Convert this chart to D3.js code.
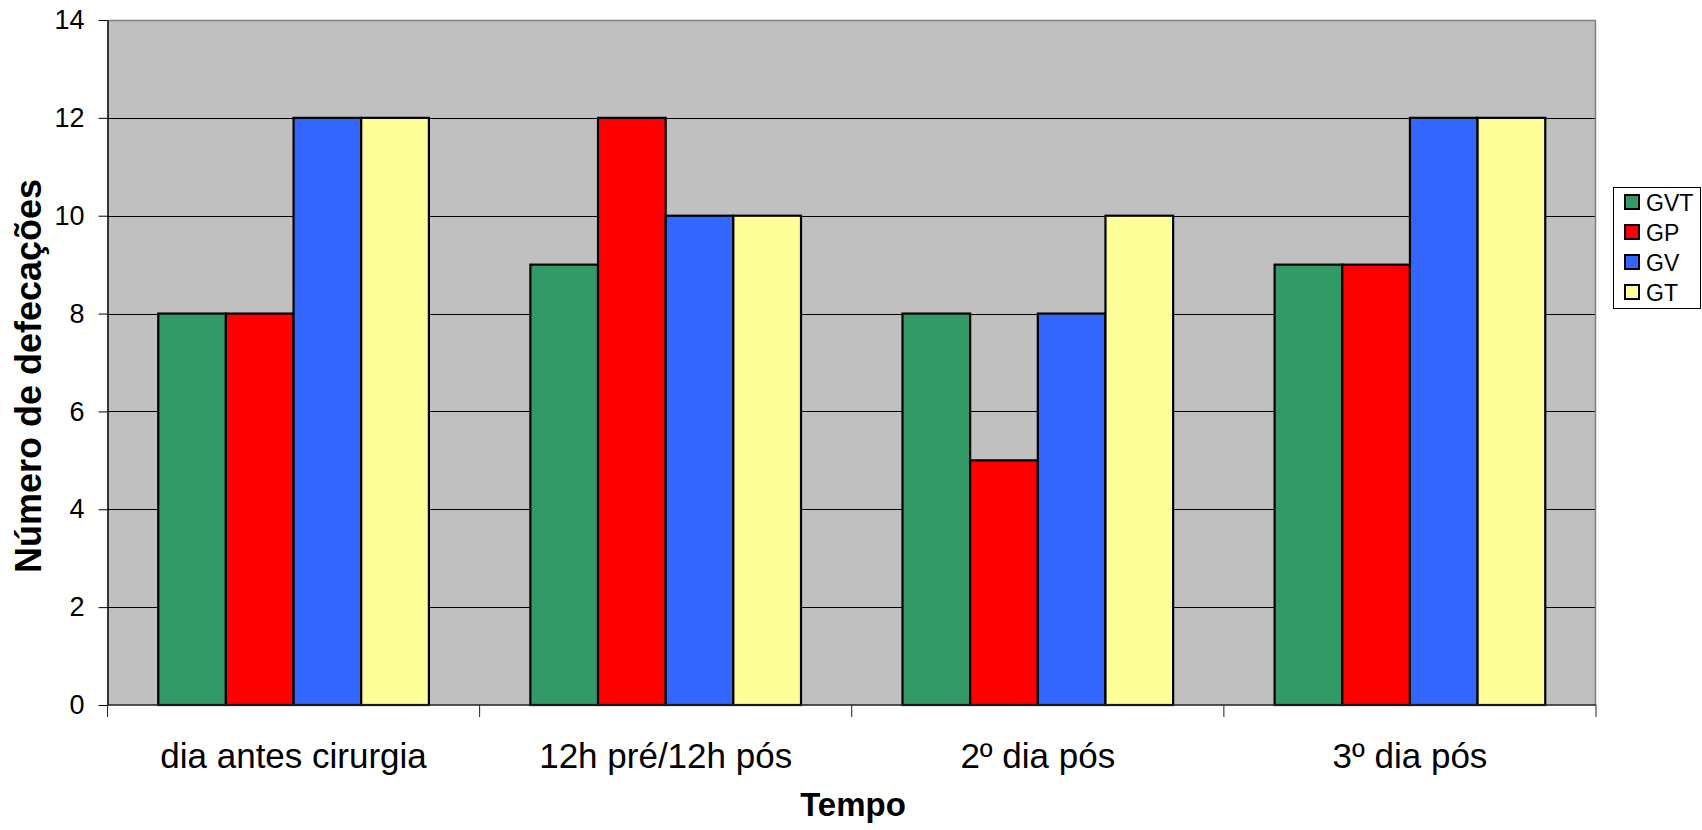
<!DOCTYPE html>
<html>
<head>
<meta charset="utf-8">
<script src="https://cdn.jsdelivr.net/npm/d3@7"></script>
<style>
  body { margin: 0; background: #fff; }
  svg { display: block; font-family: "Liberation Sans", Arial, sans-serif; }
</style>
</head>
<body>
<svg id="chart" width="1702" height="830"></svg>
<script>
const categories = ["dia antes cirurgia", "12h pré/12h pós", "2º dia pós", "3º dia pós"];
const seriesNames = ["GVT", "GP", "GV", "GT"];
const seriesColors = ["#339966", "#FF0000", "#3366FF", "#FFFF99"];
const valuesGVT = [8, 9, 8, 9];
const valuesGP = [8, 12, 5, 9];
const valuesGV = [12, 10, 8, 12];
const valuesGT = [12, 10, 10, 12];
const yTicks = [0, 2, 4, 6, 8, 10, 12, 14];
const yTitle = "Número de defecações";
const xTitle = "Tempo";

const seriesValues = [valuesGVT, valuesGP, valuesGV, valuesGT];

const svg = d3.select("#chart");
const plot = { left: 107.5, right: 1596, top: 20, bottom: 705 };

const x0 = d3.scaleBand().domain(categories).range([plot.left, plot.right]).padding(0);
const groupW = x0.bandwidth() * 4 / 5.5;
const x1 = d3.scaleBand().domain(seriesNames)
  .range([(x0.bandwidth() - groupW) / 2, (x0.bandwidth() + groupW) / 2]).padding(0);
const y = d3.scaleLinear().domain([0, 14]).range([plot.bottom, plot.top]);

// plot background
svg.append("rect")
  .attr("x", plot.left).attr("y", plot.top)
  .attr("width", plot.right - plot.left).attr("height", plot.bottom - plot.top)
  .attr("fill", "#C0C0C0");

// gridlines
svg.append("g").selectAll("line")
  .data(yTicks.filter(d => d > 0 && d < 14))
  .join("line")
  .attr("x1", plot.left).attr("x2", plot.right)
  .attr("y1", d => Math.round(y(d)) + 0.5).attr("y2", d => Math.round(y(d)) + 0.5)
  .attr("stroke", "#000").attr("stroke-width", 1);

// top and right border
svg.append("path")
  .attr("d", `M${plot.left},${plot.top + 0.5}H${plot.right - 0.5}V${plot.bottom}`)
  .attr("fill", "none").attr("stroke", "#808080").attr("stroke-width", 1.5);

// bars
const data = [];
categories.forEach((c, i) => {
  seriesNames.forEach((s, j) => {
    data.push({ cat: c, series: s, value: seriesValues[j][i], color: seriesColors[j] });
  });
});
svg.append("g").selectAll("rect")
  .data(data)
  .join("rect")
  .attr("x", d => x0(d.cat) + x1(d.series))
  .attr("y", d => y(d.value))
  .attr("width", x1.bandwidth())
  .attr("height", d => y(0) - y(d.value))
  .attr("fill", d => d.color)
  .attr("stroke", "#000")
  .attr("stroke-width", 2.2);

// y axis
const yAxis = d3.axisLeft(y).tickValues(yTicks).tickSize(9).tickPadding(14).tickSizeOuter(0);
const gy = svg.append("g").attr("transform", `translate(${plot.left},0)`).call(yAxis);
gy.select(".domain").attr("stroke", "#000").attr("stroke-width", 1.5);
gy.selectAll(".tick line").attr("stroke", "#000");
gy.selectAll(".tick text").attr("font-size", 27).attr("fill", "#000")
  .attr("font-family", "Liberation Sans, Arial, sans-serif");

// x axis
const boundaries = categories.map(c => x0(c)).concat([plot.right]);
const gx = svg.append("g");
gx.append("line")
  .attr("x1", plot.left).attr("x2", plot.right)
  .attr("y1", plot.bottom).attr("y2", plot.bottom)
  .attr("stroke", "#222").attr("stroke-width", 1.5);
gx.selectAll("line.tk").data(boundaries).join("line").attr("class", "tk")
  .attr("x1", d => d).attr("x2", d => d)
  .attr("y1", plot.bottom).attr("y2", plot.bottom + 12)
  .attr("stroke", "#222").attr("stroke-width", 1);
gx.selectAll("text").data(categories).join("text")
  .attr("x", d => x0(d) + x0.bandwidth() / 2)
  .attr("y", 768)
  .attr("text-anchor", "middle")
  .attr("font-size", 35)
  .attr("fill", "#000")
  .text(d => d);

// axis titles
svg.append("text")
  .attr("x", 853).attr("y", 816)
  .attr("text-anchor", "middle")
  .attr("font-size", 33).attr("font-weight", "bold")
  .text(xTitle);

svg.append("text")
  .attr("transform", "translate(41,376) rotate(-90)")
  .attr("text-anchor", "middle")
  .attr("font-size", 36).attr("font-weight", "bold")
  .text(yTitle);

// legend
const lg = svg.append("g");
lg.append("rect")
  .attr("x", 1613.5).attr("y", 187.5).attr("width", 87).attr("height", 121)
  .attr("fill", "#fff").attr("stroke", "#000").attr("stroke-width", 1);
const rowY = [202, 232, 262, 292];
seriesNames.forEach((s, i) => {
  lg.append("rect")
    .attr("x", 1625).attr("y", rowY[i] - 7).attr("width", 14).attr("height", 14)
    .attr("fill", seriesColors[i]).attr("stroke", "#000").attr("stroke-width", 2);
  lg.append("text")
    .attr("x", 1646).attr("y", rowY[i] + 8.5)
    .attr("font-size", 23).attr("fill", "#000")
    .text(s);
});
</script>
</body>
</html>
